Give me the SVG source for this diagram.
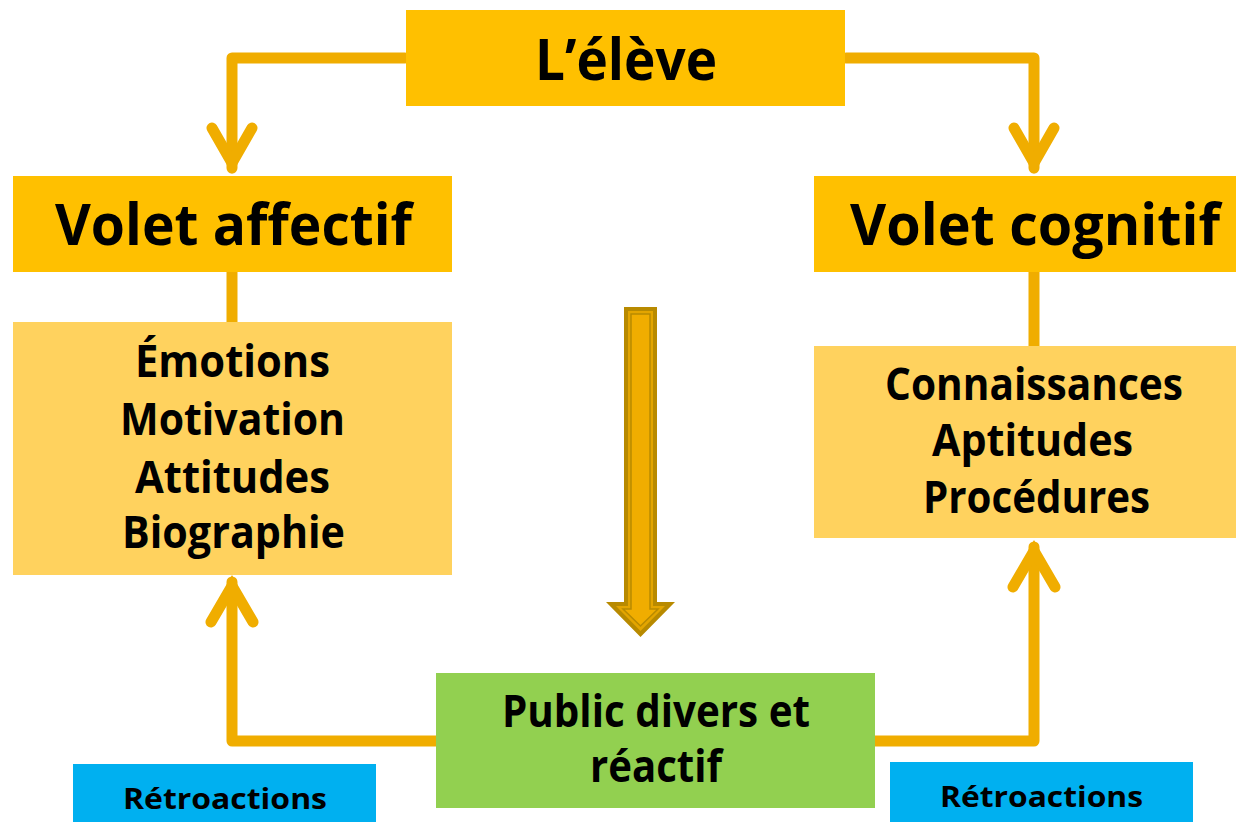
<svg xmlns="http://www.w3.org/2000/svg" width="1236" height="822" viewBox="0 0 1236 822">
<style>
.conn{fill:none;stroke:#F0AD00;stroke-width:11;stroke-linecap:round;stroke-linejoin:round}
.head{fill:none;stroke:#F0AD00;stroke-width:11;stroke-linecap:round;stroke-linejoin:miter;stroke-miterlimit:10}
.hdr{fill:#FFC000}
.lt{fill:#FFD25E}
.t{font-family:"Open Sans","Noto Sans","Liberation Sans",sans-serif;font-weight:700;fill:#000}
.big{font-size:58px}
.mid{font-size:44px}
.sm{font-size:29px}
</style>
<rect width="1236" height="822" fill="#fff"/>
<g id="connectors">
<path class="conn" d="M405,58 H232 V168"/>
<polyline class="head" points="212,128 232,163 252,128"/>
<path class="conn" d="M846,58 H1034 V168"/>
<polyline class="head" points="1014,128 1034,163 1054,128"/>
<path class="conn" d="M232,272 V323"/>
<path class="conn" d="M1034,272 V347"/>
<path class="conn" d="M436,741 H232 V582"/>
<polyline class="head" points="211,622 232,586 253,622"/>
<path class="conn" d="M875,741 H1034 V547"/>
<polyline class="head" points="1013,587 1034,551 1055,587"/>
<g id="block-arrow">
<polygon points="624,307 657,307 657,602 675,602 640.5,637 606,602 624,602" fill="#B88A00"/>
<polygon points="628,311 653,311 653,606 665,606 640.5,631 616,606 628,606" fill="#E3A500"/>
<polygon points="631,314 650,314 650,609 658,609 640.5,626 623,609 631,609" fill="#F0AD00" stroke="#B88A00" stroke-width="1.5"/>
</g>
</g>
<g id="eleve">
<rect class="hdr" x="406" y="10" width="439" height="96"/>
<text class="t big" x="535" y="80" textLength="182" lengthAdjust="spacingAndGlyphs">L’élève</text>
</g>
<g id="volet-affectif">
<rect class="hdr" x="13" y="176" width="439" height="96"/>
<text class="t big" x="55" y="245" textLength="357" lengthAdjust="spacingAndGlyphs">Volet affectif</text>
</g>
<g id="volet-cognitif">
<rect class="hdr" x="814" y="176" width="422" height="96"/>
<text class="t big" x="850" y="245" textLength="370" lengthAdjust="spacingAndGlyphs">Volet cognitif</text>
</g>
<g id="affectif-items">
<rect class="lt" x="13" y="322" width="439" height="253"/>
<text class="t mid" x="135" y="377" textLength="195" lengthAdjust="spacingAndGlyphs">Émotions</text>
<text class="t mid" x="120" y="435" textLength="225" lengthAdjust="spacingAndGlyphs">Motivation</text>
<text class="t mid" x="135" y="493" textLength="195" lengthAdjust="spacingAndGlyphs">Attitudes</text>
<text class="t mid" x="122" y="548" textLength="223" lengthAdjust="spacingAndGlyphs">Biographie</text>
</g>
<g id="cognitif-items">
<rect class="lt" x="814" y="346" width="422" height="192"/>
<text class="t mid" x="885" y="400" textLength="298" lengthAdjust="spacingAndGlyphs">Connaissances</text>
<text class="t mid" x="932" y="456" textLength="201" lengthAdjust="spacingAndGlyphs">Aptitudes</text>
<text class="t mid" x="923" y="513" textLength="227" lengthAdjust="spacingAndGlyphs">Procédures</text>
</g>
<g id="public">
<rect x="436" y="673" width="439" height="135" fill="#92D050"/>
<text class="t mid" x="502" y="727" textLength="308" lengthAdjust="spacingAndGlyphs">Public divers et</text>
<text class="t mid" x="590" y="782" textLength="132" lengthAdjust="spacingAndGlyphs">réactif</text>
</g>
<g id="retro-left">
<rect x="73" y="764" width="303" height="58" fill="#00B0F0"/>
<text class="t sm" x="123" y="809" textLength="204" lengthAdjust="spacingAndGlyphs">Rétroactions</text>
</g>
<g id="retro-right">
<rect x="890" y="762" width="303" height="60" fill="#00B0F0"/>
<text class="t sm" x="940" y="807" textLength="203" lengthAdjust="spacingAndGlyphs">Rétroactions</text>
</g>
</svg>
